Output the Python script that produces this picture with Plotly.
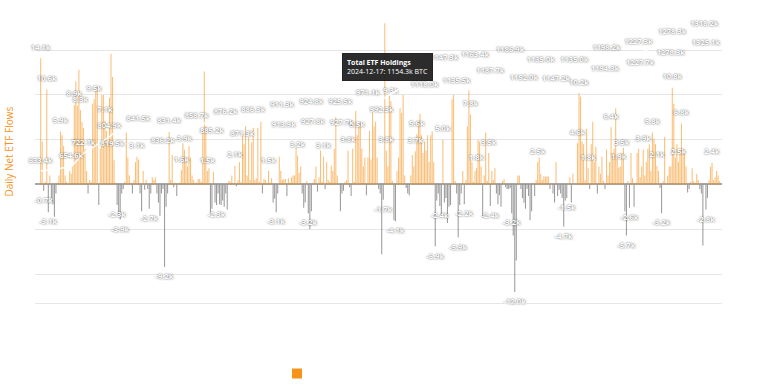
import plotly.graph_objects as go

# Daily net ETF flows (thousand BTC), one value per trading day
flows = [
    14.1, 4.8, -0.7, 0.3, 10.6, -3.1, 1.0, -1.5, -2.2, -3.6,
    -1.0, 0.2, 1.0, 5.9, 5.5, 4.3, 1.0, 0.3, 0.0, 1.5,
    1.2, 2.2, 8.9, 11.5, 8.8, 12.8, 8.3, 7.0, 6.3, 4.0,
    1.5, -1.0, 0.5, 0.3, 9.0, 9.5, 10.5, 10.9, -2.3, 4.0,
    10.0, 10.0, 7.1, 6.0, 4.6, 9.7, 14.6, 12.0, 2.7, 0.2,
    -2.3, -3.3, -3.9, -1.0, -0.5, 0.3, 5.8, 3.0, 1.0, 0.2,
    -1.0, 0.5, 2.5, 3.1, 2.8, -1.0, -3.0, 1.5, -0.6, 0.5,
    -0.5, -2.7, -1.0, 0.8, 0.5, 0.8, -1.0, -2.0, -3.5, -1.0,
    -0.5, -9.2, -2.5, -1.0, 5.9, 0.5, 3.3, -0.3, 0.2, -1.3,
    0.1, 0.2, 1.6, 4.6, 3.9, 3.0, 2.0, 4.3, 3.0, 1.0,
    0.5, 0.1, 0.2, 0.6, 0.6, 0.3,
    6.0, 12.6, 6.5, 1.5, 1.8, -3.2, -2.7, 1.4, -2.0, -2.3,
    -1.0, -2.2, -2.3, -1.8, -2.5, -1.0, -2.8, 0.4, 0.3, 1.0,
    0.1, 2.1, -0.2, 0.5, 2.5, 0.3, 5.5, 4.5, 6.5, 1.0,
    5.3, 0.5, 4.7, 6.3, 0.5, 0.7, 6.3, 0.3, 7.0, -1.0,
    0.6, 0.5, 0.2, 1.5, 0.2, 0.7, -2.0, -1.6, -3.1, -1.0,
    3.1, 1.5, 0.5, 0.6, 0.6, -1.3, 0.7, 0.2, 0.8, 1.0,
    1.0, 4.1, 3.2, 1.3, 2.0, -1.0, -2.6, -2.0, 0.4, -3.2,
    -5.0, -3.0, 0.2, 0.6, 2.0, -0.8, 0.8, 3.8, 0.3, 3.1,
    -0.5, 2.5, 0.5, 0.3, 2.1, 1.5, 4.0, 7.5, 1.0, 0.0,
    -3.0, -1.0, -0.7, 0.3, 0.5, 3.8, -0.3, -1.3, 4.0, 0.3,
    8.2, 5.5, 6.5, 7.0, 4.0, 2.0, 3.0, -1.2, 3.0, 6.0,
    2.8,
    8.0, 6.5, 7.0, 3.0, -0.5, -1.0, -7.8, -1.7, 18.0, 3.8,
    2.0, 10.0, 9.3, 0.4, -4.0, -4.1, 1.5, 3.0, 8.5, 8.0,
    10.0, 1.0, -0.4, -1.0, -1.2, 1.0, 3.3, 2.0, 3.7, 5.6,
    7.0, 7.9, 5.5, 3.5, 4.8, 3.8, 5.5, 2.5, 5.5, 5.9,
    2.5, -6.9, -1.8, -1.0, -2.4, -3.5, 5.0, -2.0, -1.5, -4.3,
    -2.5, -2.3, 9.5, 10.0, 0.4, -1.0, -5.9, -2.3, -1.0, 1.5,
    -2.2, 0.5, 6.5, 10.5, 7.8, 2.5, 0.3, 1.5, 1.8, 5.0,
    4.8, 2.0, -3.7, 1.0, 5.8, 0.4, 3.5, -2.4, 1.5, 0.5,
    1.8, -1.0, -2.2, -1.2, -2.5, 0.4, 0.6, -0.3, -0.5, -0.5,
    -0.4, -3.2, -5.7, -12.0, -8.5, 1.0, 1.0, -0.5, -1.5, -2.0,
    -2.7, -0.5, -1.3, -4.0, -3.0, 0.2, -1.3, 0.5, 2.5, 3.0,
    1.2,
    0.5, 0.9, 0.9, 0.9, 0.9, -0.5, 0.0, -1.0, -2.0, 2.5,
    -1.3, -0.6, -1.0, -1.5, -4.7, -1.8, -1.5, 0.0, 0.8, -2.0,
    1.2, 0.0, 0.0, 4.6, 10.2, 9.8, 4.8, 4.5, 0.5, 6.2,
    1.8, -0.5, 4.5, 7.0, 2.5, 4.2, -1.0, 2.0, 1.2, 3.1,
    0.4, -0.5, 3.9, 1.0, 2.5, 6.4, 3.5, 4.0, 8.5, 3.0,
    1.9, 2.0, 3.5, 4.1, -3.0, -5.7, 0.4, -2.6, 3.5, 0.7,
    -2.5, 0.2, 3.5, 4.0, 0.8, 2.0, 3.9, 1.0, 2.5, 4.0,
    4.5, 1.5, 5.8, 5.1, 4.5, 2.1, 1.5, -0.4, -3.2, 0.4,
    5.3, 0.0, 1.0, 2.0, 2.0, 10.8, 9.0, 3.0, 4.5, 2.5,
    3.6, 6.8, 4.0, 3.5, 2.0, -0.9, -0.5, 0.3, 1.8, 0.4,
    0.2, 1.2, 0.5, -0.5, -1.0, -6.8, 0.0, -2.8, -1.5, 0.5,
    2.0, 2.4, 0.5, 0.8, 1.5, 1.0, 0.4,
]

# Trading days whose flow carries a value label
flow_label_days = [0, 2, 4, 5, 13, 22, 26, 35, 42, 50, 52, 63, 71, 81, 92, 94,
                   109, 115, 127, 149, 154, 168, 175, 185, 201, 207,
                   224, 226, 229, 232, 245, 246, 258, 261, 263, 273, 277, 281,
                   285, 293, 294, 308, 310, 325,
                   342, 344, 351, 352, 358, 373, 378, 380, 383, 385, 394, 400,
                   403, 406, 413, 417, 419, 435, 439]

# Total ETF holdings (thousand BTC) on selected trading days
hold_days = [0, 20, 28, 45, 47, 64, 80, 84, 102, 112, 121, 132, 139, 158, 159,
             177, 178, 196, 197, 214, 223, 251, 259, 264, 272, 284, 294, 307,
             316, 327, 337, 349, 369, 370, 391, 392, 412, 413, 434, 435]
hold_vals = [633.4, 654.6, 722.1, 804.9, 819.5, 841.5, 836.2, 831.4, 858.7,
             885.2, 876.2, 871.3, 886.3, 911.3, 913.9, 924.8, 927.8, 925.5,
             927.7, 971.1, 992.3, 1118.0, 1154.3, 1147.3, 1135.5, 1163.4,
             1187.7, 1186.9, 1152.0, 1135.0, 1147.2, 1135.0, 1194.3, 1198.2,
             1227.3, 1227.7, 1278.3, 1278.3, 1318.2, 1325.1]
hold_label_side = ['top', 'top', 'top', 'top', 'bottom', 'top', 'bottom', 'top',
                   'top', 'bottom', 'top', 'bottom', 'top', 'top', 'bottom',
                   'top', 'bottom', 'top', 'bottom', 'top', 'bottom', 'bottom',
                   '', 'top', 'bottom', 'top', 'bottom', 'top', 'bottom', 'top',
                   'bottom', 'top', 'bottom', 'top', 'top', 'bottom', 'bottom',
                   'top', 'top', 'bottom']

hover_day = 259
hover_date = "2024-12-17"
hover_value = 1154.3

ORANGE = '#f7931a'
POS = 'rgba(247,147,26,0.58)'
NEG = 'rgba(128,128,128,0.78)'
FONT = 'Open Sans'

days = list(range(len(flows)))
bar_colors = [POS if v >= 0 else NEG for v in flows]

label_font = dict(family=FONT, size=7.5, color='white', weight=700,
                  shadow='0px 0px 2px rgba(0,0,0,0.75)')

fig = go.Figure()
fig.add_trace(go.Bar(x=days, y=flows, marker=dict(color=bar_colors, line=dict(width=0)),
                     showlegend=False, hoverinfo='skip'))
fig.add_trace(go.Scatter(x=hold_days, y=hold_vals, yaxis='y2', mode='lines',
                         line=dict(color='white', width=1.5),
                         showlegend=False, hoverinfo='skip'))

ly = [flows[d] for d in flow_label_days]
fig.add_trace(go.Scatter(
    x=flow_label_days, y=ly, mode='markers+text',
    marker=dict(size=9, opacity=0),
    text=[f"{v:.1f}k" for v in ly],
    textposition=['top center' if v >= 0 else 'bottom center' for v in ly],
    textfont=label_font, cliponaxis=False, showlegend=False, hoverinfo='skip'))

hk = [k for k, s in enumerate(hold_label_side) if s]
fig.add_trace(go.Scatter(
    x=[hold_days[k] for k in hk], y=[hold_vals[k] for k in hk], yaxis='y2',
    mode='markers+text', marker=dict(size=9, opacity=0),
    text=[f"{hold_vals[k]:.1f}k" for k in hk],
    textposition=[hold_label_side[k] + ' center' for k in hk],
    textfont=label_font, cliponaxis=False, showlegend=False, hoverinfo='skip'))

# legend entry
fig.add_trace(go.Scatter(x=[None], y=[None], mode='markers', name=' ',
                         marker=dict(symbol='square', size=10, color=ORANGE),
                         showlegend=True))

fig.add_annotation(
    x=hover_day, y=hover_value, xref='x', yref='y2',
    text=f"<b>Total ETF Holdings</b><br>{hover_date}: {hover_value:.1f}k BTC",
    showarrow=False, xanchor='right', yanchor='middle', xshift=-4, align='left',
    bgcolor='rgba(28,28,28,0.93)', bordercolor='rgba(28,28,28,0.93)', borderpad=4,
    font=dict(family=FONT, size=7, color='white'))

fig.add_annotation(
    x=-27 / 687, y=0.5, xref='paper', yref='paper', text="Daily Net ETF Flows",
    textangle=-90, showarrow=False, xanchor='center', yanchor='middle',
    font=dict(family=FONT, size=10, color=ORANGE))

fig.update_layout(
    width=768, height=384,
    margin=dict(l=35, r=46, t=0, b=81),
    paper_bgcolor='white', plot_bgcolor='white',
    bargap=0.3,
    xaxis=dict(range=[-3.7, len(flows) + 0.5], showgrid=False, showticklabels=False,
               zeroline=False, showline=True, linecolor='#e6e6e6', linewidth=1,
               ticks=''),
    yaxis=dict(range=[-13.23, 20.59], tickvals=[-10, -5, 5, 10, 15],
               showticklabels=False, gridcolor='#e6e6e6', gridwidth=1,
               zeroline=True, zerolinecolor='#a6a6a6', zerolinewidth=1.5, ticks=''),
    yaxis2=dict(overlaying='y', range=[-27.9, 1490.1], visible=False),
    legend=dict(orientation='h', xref='container', yref='container',
                x=0.3607, y=0.0273, xanchor='left', yanchor='middle',
                font=dict(family=FONT, size=8), bgcolor='rgba(0,0,0,0)'),
    showlegend=True,
)

fig.write_html("out.html", config={'displayModeBar': False},
               post_script="document.body.style.margin='0px';")
